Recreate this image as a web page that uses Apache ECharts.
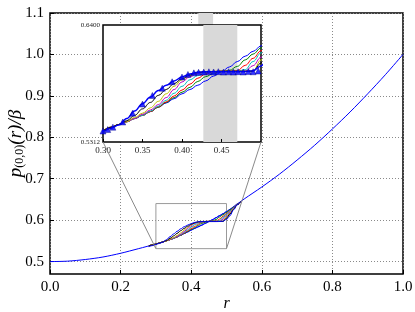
<!DOCTYPE html>
<html><head><meta charset="utf-8">
<script src="https://cdn.jsdelivr.net/npm/echarts@6/dist/echarts.min.js"></script>
<style>html,body{margin:0;padding:0;background:#fff}#c{width:415px;height:312px}</style>
</head><body><div id="c"></div><script>
// ---------- data ----------
const rMain = [0,0.05,0.10,0.15,0.20,0.25,0.30,0.35,0.40,0.45,0.50,0.55,0.60,0.65,0.70,0.75,0.80,0.85,0.90,0.95,1.00];
const baseMain = [0.500,0.501,0.505,0.511,0.520,0.531,0.5425,0.556,0.576,0.5965,0.6205,0.651,0.680,0.711,0.745,0.781,0.820,0.861,0.905,0.951,1.000];

const rBundle = [0.28,0.29,0.30,0.31,0.32,0.33,0.34,0.35,0.36,0.37,0.38,0.39,0.40,0.41,0.42,0.43,0.44,0.45,0.46,0.47,0.48,0.49,0.50,0.51,0.52,0.53,0.54];
const curveB = [.538,.540,.5425,.545,.5475,.550,.553,.556,.5595,.5635,.5675,.5715,.576,.580,.584,.588,.5925,.5965,.601,.606,.611,.6155,.6205,.626,.632,.639,.645];
const curveG = [.538,.540,.5425,.545,.5475,.550,.553,.556,.5595,.5635,.568,.5725,.5775,.582,.5875,.592,.595,.5968,.5978,.6015,.6075,.613,.6186,.625,.631,.6385,.645];
const curveR = [.538,.540,.5425,.545,.5475,.550,.553,.556,.5595,.564,.5685,.574,.5795,.585,.5905,.5945,.5965,.597,.597,.5975,.6025,.609,.616,.623,.630,.638,.645];
const curveC = [.538,.540,.5425,.545,.5475,.550,.553,.556,.560,.5645,.570,.5765,.583,.589,.593,.5955,.5967,.597,.597,.597,.5985,.606,.614,.622,.6295,.638,.645];
const curveM = [.538,.540,.5425,.545,.5475,.550,.553,.557,.561,.566,.5725,.580,.587,.592,.595,.5963,.5968,.597,.597,.597,.597,.6022,.610,.619,.628,.6375,.645];
const curveY = [.538,.540,.5425,.545,.5475,.550,.554,.558,.563,.569,.576,.583,.589,.593,.5955,.5965,.5968,.597,.597,.597,.597,.5975,.6074,.617,.627,.637,.645];
const curveK = [.538,.540,.5422,.5448,.5475,.551,.556,.562,.568,.5745,.580,.5855,.590,.5935,.596,.5965,.5968,.597,.597,.597,.597,.597,.6046,.615,.626,.637,.645];
const curveT = [.536,.5385,.5414,.544,.547,.553,.560,.5667,.573,.579,.584,.588,.5916,.5945,.596,.5965,.5965,.5965,.5965,.5965,.5967,.5975,.6019,.611,.625,.637,.645];

const triR = [0.300,0.306,0.3125,0.325,0.3375,0.350,0.3625,0.375,0.3875,0.400,0.4075,0.415,0.421,0.4275,0.434,0.440,0.446,0.4525,0.459,0.465,0.471,0.4775,0.484,0.490,0.4965];
const triV = [.5414,.5428,.545,.5498,.558,.5665,.5745,.5812,.5872,.5916,.594,.5955,.596,.5962,.5965,.5963,.5966,.5962,.5965,.5962,.5966,.5963,.5967,.5965,.5972];

const xTicksMain = [0,0.2,0.4,0.6,0.8,1.0];
const yTicksMain = [0.5,0.6,0.7,0.8,0.9,1.0,1.1];
const yGridMain = [0.5,0.6,0.7,0.8,0.9,1.0];
const xTicksInset = [0.30,0.35,0.40,0.45];
const yTicksInset = [0.5312,0.6400];
const zoomBox = [0.30,0.50,0.5312,0.6400];
const bandMain = [0.42,0.462];
const bandInset = [0.427,0.47];

// ---------- chart ----------
const FONT = 'Liberation Serif';
const colors = {B:'#0000ff',G:'#008000',R:'#ff0000',C:'#00bfbf',M:'#bf00bf',Y:'#bfbf00',K:'#000000',T:'#0000ff'};
const bundle = [['B',curveB],['G',curveG],['R',curveR],['C',curveC],['M',curveM],['Y',curveY],['K',curveK],['T',curveT]];
const pairs = (xs, ys) => xs.map((x,i)=>[x, ys[i]]);

const series = [];
series.push({type:'line', xAxisIndex:0, yAxisIndex:0, data:pairs(rMain, baseMain), showSymbol:false, smooth:0.3,
  lineStyle:{color:colors.B, width:1}, z:3, silent:true,
  markArea:{silent:true, z:1, itemStyle:{color:'#d9d9d9'}, data:[[{xAxis:bandMain[0], yAxis:1.1},{xAxis:bandMain[1], yAxis:0.8}]]}});
series.push({type:'line', xAxisIndex:0, yAxisIndex:0, showSymbol:false, silent:true, z:2,
  data:[[zoomBox[0],zoomBox[2]],[zoomBox[1],zoomBox[2]],[zoomBox[1],zoomBox[3]],[zoomBox[0],zoomBox[3]],[zoomBox[0],zoomBox[2]]],
  lineStyle:{color:'#9a9a9a', width:1}});
bundle.forEach(([k, arr]) => series.push({type:'line', xAxisIndex:0, yAxisIndex:0, data:pairs(rBundle, arr), showSymbol:false,
  smooth:0.4, smoothMonotone:'x', lineStyle:{color:colors[k], width:1}, z:3, silent:true}));
bundle.forEach(([k, arr], i) => series.push({type:'line', xAxisIndex:1, yAxisIndex:1, data:pairs(rBundle, arr), showSymbol:false,
  smooth:0.4, smoothMonotone:'x', clip:true, lineStyle:{color:colors[k], width: k==='T'?1.5:1}, z:12, silent:true,
  markArea: i===0 ? {silent:true, z:11, itemStyle:{color:'#d9d9d9'}, data:[[{xAxis:bandInset[0]},{xAxis:bandInset[1]}]]} : undefined}));
series.push({type:'scatter', xAxisIndex:1, yAxisIndex:1, data:pairs(triR, triV), symbol:'triangle', symbolSize:6,
  itemStyle:{color:'#0000ff', borderColor:'#000080', borderWidth:0.5}, z:13, silent:true, clip:true});

const chart = echarts.init(document.getElementById('c'), null, {renderer:'canvas'});
chart.setOption({
  animation:false,
  backgroundColor:'#fff',
  grid:[
    {left:50, right:12, top:13, bottom:38, containLabel:false, outerBoundsMode:'none', show:true, borderColor:'#000', borderWidth:1.5, backgroundColor:'transparent', z:0},
    {left:103, top:25, width:158, height:117, containLabel:false, outerBoundsMode:'none', show:true, borderColor:'#000', borderWidth:1.5, backgroundColor:'#fff', z:10}
  ],
  xAxis:[
    {type:'value', gridIndex:0, min:0, max:1, interval:0.2,
     axisLine:{show:false}, axisTick:{show:true, inside:true, length:4, lineStyle:{color:'#000'}},
     splitLine:{show:true, lineStyle:{color:'#8a8a8a', type:[1,2], width:1}},
     axisLabel:{fontFamily:FONT, fontSize:15, color:'#000', margin:6, formatter:v=>v.toFixed(1)},
     name:'r', nameLocation:'middle', nameGap:22, nameMoveOverlap:false, nameTextStyle:{fontFamily:FONT, fontStyle:'italic', fontSize:16, color:'#000'}},
    {type:'value', gridIndex:1, min:0.30, max:0.50, interval:0.05, z:11,
     axisLine:{show:false}, axisTick:{show:true, inside:true, length:3, lineStyle:{color:'#000'}},
     splitLine:{show:false},
     axisLabel:{fontFamily:FONT, fontSize:9, color:'#222', margin:4, showMaxLabel:false, formatter:v=>v.toFixed(2)}}
  ],
  yAxis:[
    {type:'value', gridIndex:0, min:0.47, max:1.1,
     axisLine:{show:false},
     axisTick:{show:true, inside:true, length:4, customValues:yTicksMain, lineStyle:{color:'#000'}},
     splitLine:{show:true, customValues:yGridMain, lineStyle:{color:'#8a8a8a', type:[1,2], width:1}},
     axisLabel:{fontFamily:FONT, fontSize:15, color:'#000', margin:6, customValues:yTicksMain, formatter:v=>v.toFixed(1)},
     name:'{i|p}{s|(0,0)}{i|(r)/β}', nameLocation:'middle', nameGap:24, nameRotate:90, nameMoveOverlap:false,
     nameTextStyle:{fontFamily:FONT, fontSize:19, color:'#000',
       rich:{i:{fontFamily:FONT, fontStyle:'italic', fontSize:19, color:'#000'},
             s:{fontFamily:FONT, fontSize:12, color:'#000', padding:[9,0,0,0]}}}},
    {type:'value', gridIndex:1, min:zoomBox[2], max:zoomBox[3], z:11,
     axisLine:{show:false}, axisTick:{show:false}, splitLine:{show:false},
     axisLabel:{fontFamily:FONT, fontSize:7, color:'#222', margin:3, customValues:yTicksInset, formatter:v=>v.toFixed(4)}}
  ],
  series: series
});

const a1 = chart.convertToPixel({gridIndex:1}, [zoomBox[0], zoomBox[2]]);
const b1 = chart.convertToPixel({gridIndex:0}, [zoomBox[0], zoomBox[2]]);
const a2 = chart.convertToPixel({gridIndex:1}, [zoomBox[1], zoomBox[2]]);
const b2 = chart.convertToPixel({gridIndex:0}, [zoomBox[1], zoomBox[2]]);
chart.setOption({graphic:[
  {type:'line', shape:{x1:a1[0], y1:a1[1], x2:b1[0], y2:b1[1]}, style:{stroke:'#8a8a8a', lineWidth:1}, z:20, silent:true},
  {type:'line', shape:{x1:a2[0], y1:a2[1], x2:b2[0], y2:b2[1]}, style:{stroke:'#8a8a8a', lineWidth:1}, z:20, silent:true}
]});
</script></body></html>
